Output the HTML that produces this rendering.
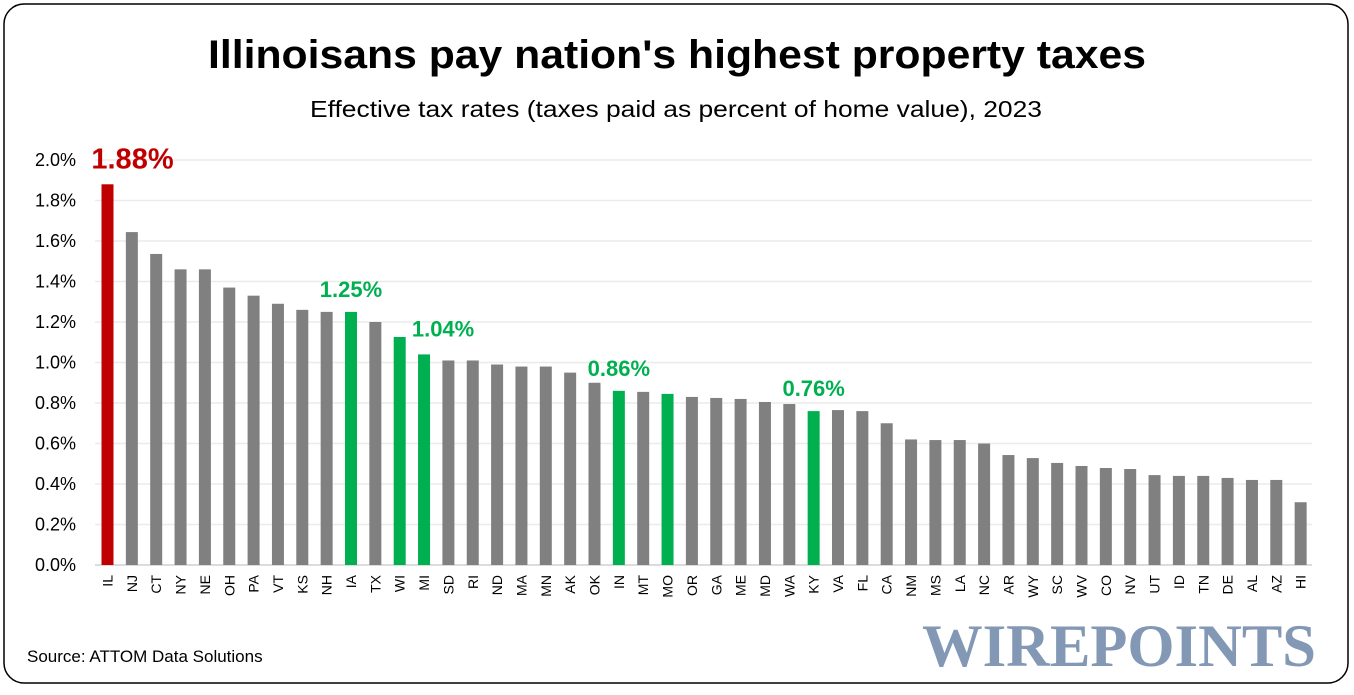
<!DOCTYPE html>
<html><head><meta charset="utf-8"><style>
body{margin:0;background:#fff;width:1354px;height:690px;overflow:hidden;font-family:"Liberation Sans",sans-serif}
</style></head><body>
<svg width="1354" height="690">
<rect x="4" y="4" width="1344" height="679" rx="20" fill="#fff" stroke="#000" stroke-width="1.5"/>
<text x="677" y="68" text-anchor="middle" font-size="40" font-weight="bold" fill="#000" textLength="938" lengthAdjust="spacingAndGlyphs">Illinoisans pay nation's highest property taxes</text>
<text x="676" y="117" text-anchor="middle" font-size="23" fill="#000" textLength="732" lengthAdjust="spacingAndGlyphs">Effective tax rates (taxes paid as percent of home value), 2023</text>
<g id="grid"></g><g id="bars"></g><g id="labels"></g>
<text x="27" y="662" font-size="17" fill="#000">Source: ATTOM Data Solutions</text>
<text x="1316" y="666" text-anchor="end" font-family="Liberation Serif,serif" font-weight="bold" font-size="60" fill="#8398b5" textLength="394" lengthAdjust="spacingAndGlyphs">WIREPOINTS</text>
</svg>
<script>
const states=["IL","NJ","CT","NY","NE","OH","PA","VT","KS","NH","IA","TX","WI","MI","SD","RI","ND","MA","MN","AK","OK","IN","MT","MO","OR","GA","ME","MD","WA","KY","VA","FL","CA","NM","MS","LA","NC","AR","WY","SC","WV","CO","NV","UT","ID","TN","DE","AL","AZ","HI"];
const values=[1.88,1.644,1.536,1.46,1.46,1.37,1.33,1.29,1.26,1.25,1.25,1.20,1.126,1.04,1.01,1.01,0.99,0.98,0.98,0.95,0.90,0.86,0.855,0.845,0.83,0.825,0.82,0.805,0.795,0.76,0.765,0.76,0.70,0.62,0.617,0.617,0.60,0.543,0.528,0.504,0.489,0.479,0.474,0.444,0.44,0.44,0.43,0.42,0.42,0.31];
const highlight=["IA","WI","MI","IN","MO","KY"];
const labeled=["IL","IA","MI","IN","KY"];
const ticks=[0,0.2,0.4,0.6,0.8,1.0,1.2,1.4,1.6,1.8,2.0];
const NS="http://www.w3.org/2000/svg";
const y=v=>565-v*202.5;
const x=i=>107.5+i*24.35;
function mk(t,a,p){const e=document.createElementNS(NS,t);for(const k in a)e.setAttribute(k,a[k]);p.appendChild(e);return e;}
const G=document.getElementById('grid'),B=document.getElementById('bars'),L=document.getElementById('labels');
ticks.forEach(t=>{
 const l=mk('line',{x1:95,x2:1312,y1:y(t),y2:y(t),stroke:t===0?'#d0d0d0':'#ebebeb','stroke-width':1.5},G);
 
 
 const tx=mk('text',{x:76,y:y(t)+6,'text-anchor':'end','font-size':18,fill:'#000'},G);
 tx.textContent=t.toFixed(1)+'%';
 
 
});
states.forEach((s,i)=>{
 const c=s==='IL'?'#c00000':highlight.includes(s)?'#00b050':'#808080';
 const r=mk('rect',{x:x(i)-6,y:y(values[i]),width:12,height:565-y(values[i]),fill:c},B);
 
 
 const t=mk('text',{transform:`translate(${x(i)+5},575) rotate(-90)`,'text-anchor':'end','font-size':14,fill:'#000'},L);
 t.textContent=s;
 
 
 if(labeled.includes(s)){
  const big=s==='IL';
  const dx=big?25:(s==='MI'?19:0);
  const v=mk('text',{x:x(i)+dx,y:y(values[i])-(big?16:(s==='MI'?18:15)),'text-anchor':'middle','font-size':big?29:22,'font-weight':'bold',fill:c},L);
  v.textContent=values[i].toFixed(2)+'%';
  
  
 }
});
</script>
</body></html>
